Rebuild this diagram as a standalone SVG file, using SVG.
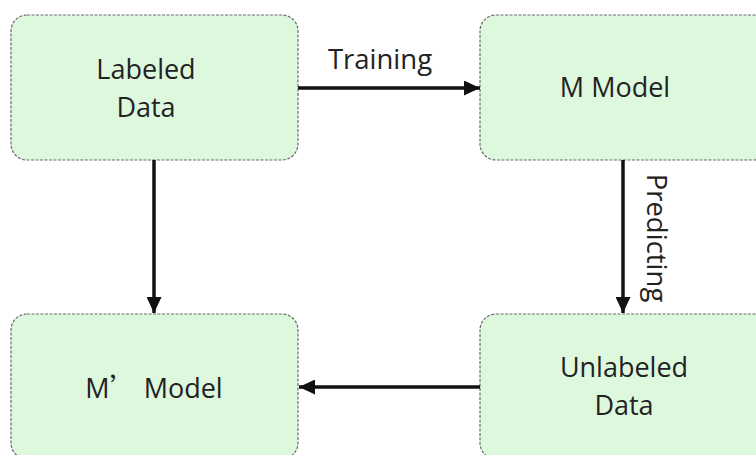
<svg xmlns="http://www.w3.org/2000/svg" width="756" height="455" viewBox="0 0 756 455">
<defs>
<style>
.box{fill:#def8de;stroke:#6a6a6a;stroke-width:1.2;stroke-dasharray:3 1.5}
.lbl{font-family:"Open Sans","Liberation Sans",sans-serif;font-size:27px;fill:#222;text-anchor:middle}
.edge{stroke:#111;stroke-width:3.5;fill:none}
.cjk{font-family:"Noto Sans CJK SC",sans-serif}
</style>
<marker id="ah" viewBox="0 0 16 15" refX="16" refY="7.5" markerWidth="16" markerHeight="15" markerUnits="userSpaceOnUse" orient="auto">
<path d="M0,0 L16,7.5 L0,15 Z" fill="#111"/>
</marker>
</defs>
<rect width="756" height="455" fill="#fff"/>
<g id="labeled-data">
<rect class="box" x="11" y="15" width="287" height="145" rx="16"/>
<text class="lbl" x="146" y="79">Labeled</text>
<text class="lbl" x="146" y="117">Data</text>
</g>
<g id="m-model">
<rect class="box" x="480" y="15" width="290" height="145" rx="16"/>
<text class="lbl" x="615" y="97">M Model</text>
</g>
<g id="m-prime-model">
<rect class="box" x="11" y="314" width="287" height="145" rx="16"/>
<text class="lbl" x="154" y="398">M<tspan class="cjk">’</tspan> Model</text>
</g>
<g id="unlabeled-data">
<rect class="box" x="480" y="314" width="290" height="145" rx="16"/>
<text class="lbl" x="624" y="377">Unlabeled</text>
<text class="lbl" x="624" y="415">Data</text>
</g>
<g id="connectors">
<line class="edge" x1="298" y1="88" x2="480" y2="88" marker-end="url(#ah)"/>
<text class="lbl" x="380" y="69" style="font-size:27.5px">Training</text>
<line class="edge" x1="154" y1="160" x2="154" y2="313" marker-end="url(#ah)"/>
<line class="edge" x1="623" y1="160" x2="623" y2="313" marker-end="url(#ah)"/>
<text class="lbl" transform="translate(647,238) rotate(90)" style="font-size:27.5px">Predicting</text>
<line class="edge" x1="480" y1="387" x2="299" y2="387" marker-end="url(#ah)"/>
</g>
</svg>
